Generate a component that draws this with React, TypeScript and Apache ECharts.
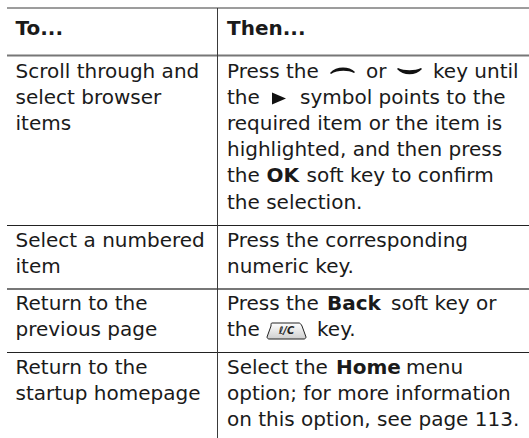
import React, { useEffect, useRef } from "react";
import * as echarts from "echarts";

const FONT = "'DejaVu Sans', Verdana, sans-serif";
const INK = "#1a1a1a";
const W = 529;
const H = 438;
const ASCENT = 18;

// [x, baseline, text, bold]
type Run = [number, number, string, boolean?];
const headerRuns: Run[] = [
  [15.5, 36, "To...", true],
  [227, 36, "Then...", true],
];
const leftRuns: Run[] = [
  [15.5, 79, "Scroll through and"],
  [15.5, 105, "select browser"],
  [15.5, 131, "items"],
  [15.5, 248, "Select a numbered"],
  [15.5, 274, "item"],
  [15.5, 311, "Return to the"],
  [15.5, 337, "previous page"],
  [15.5, 375, "Return to the"],
  [15.5, 401, "startup homepage"],
];
const rightRuns: Run[] = [
  [227, 79, "Press the"],
  [366, 79, "or"],
  [433, 79, "key until"],
  [227, 105, "the"],
  [300, 105, "symbol points to the"],
  [227, 131, "required item or the item is"],
  [227, 157, "highlighted, and then press"],
  [227, 183, "the"],
  [266.5, 183, "OK", true],
  [306.5, 183, "soft key to confirm"],
  [227, 210, "the selection."],
  [227, 248, "Press the corresponding"],
  [227, 274, "numeric key."],
  [227, 311, "Press the"],
  [327, 311, "Back", true],
  [391, 311, "soft key or"],
  [227, 337, "the"],
  [317, 337, "key."],
  [227, 375, "Select the"],
  [336, 375, "Home", true],
  [406, 375, "menu"],
  [227, 401, "option; for more information"],
  [227, 427, "on this option, see page 113."],
];
// [x1, y1, x2, y2, stroke, width]
const rules: [number, number, number, number, string, number][] = [
  [7, 8, 529, 8, "#3a3a3a", 1],
  [7, 55.5, 529, 55.5, "#777777", 2],
  [7, 225.5, 529, 225.5, "#222222", 1],
  [7, 289, 529, 289, "#777777", 2],
  [7, 352.5, 529, 352.5, "#222222", 1],
  [217.5, 8, 217.5, 438, "#3a3a3a", 1],
];

echarts.graphic.registerShape(
  "keyUp",
  echarts.graphic.extendPath("M0 6 C6 -1 19 -1 25 5 L24 6 C18 3 7 3 1 7 Z", {})
);
echarts.graphic.registerShape(
  "keyDown",
  echarts.graphic.extendPath("M0 1 L1 0 C7 3 18 3 24 0 L25 1 C19 8 6 8 0 1 Z", {})
);
echarts.graphic.registerShape(
  "keyCap",
  echarts.graphic.extendPath(
    "M5 0 L32 0 C33 0 34 1 35 3 L39 14 C39 15 38 16 37 16 L2 16 C1 16 0 15 0 14 L4 3 C4 1 4 0 5 0 Z",
    {}
  )
);

export default function App() {
  const ref = useRef<HTMLDivElement>(null);
  useEffect(() => {
    const chart = echarts.init(ref.current!, null, { renderer: "svg" });
    const text = ([x, base, t, bold]: Run) => ({
      type: "text",
      x,
      y: base - ASCENT,
      style: {
        text: t,
        fill: INK,
        font: `${bold ? "bold " : ""}20px ${FONT}`,
        textAlign: "left",
        verticalAlign: "top",
      },
    });
    const elements: any[] = [
      { type: "rect", shape: { x: 0, y: 0, width: W, height: H }, style: { fill: "#ffffff" } },
      ...rules.map(([x1, y1, x2, y2, stroke, lineWidth]) => ({
        type: "line",
        shape: { x1, y1, x2, y2 },
        style: { stroke, lineWidth },
      })),
      ...[...headerRuns, ...leftRuns, ...rightRuns].map(text),
      { type: "keyUp", x: 330, y: 67, style: { fill: "#111" } },
      { type: "keyDown", x: 397, y: 68, style: { fill: "#111" } },
      { type: "polygon", shape: { points: [[272, 92.5], [286, 98.5], [272, 104.5]] }, style: { fill: "#111" } },
      {
        type: "keyCap",
        x: 267,
        y: 323,
        style: {
          fill: new echarts.graphic.LinearGradient(0, 0, 0, 1, [
            { offset: 0, color: "#ffffff" },
            { offset: 1, color: "#cfcfcf" },
          ]),
          stroke: "#222",
          lineWidth: 1,
        },
      },
      {
        type: "text",
        x: 286.5,
        y: 330.5,
        style: {
          text: "ℓ/C",
          fill: "#222",
          font: `italic bold 10px ${FONT}`,
          textAlign: "center",
          verticalAlign: "middle",
        },
      },
    ];
    chart.setOption({ animation: false, graphic: { elements } });
    return () => chart.dispose();
  }, []);
  return <div ref={ref} style={{ position: "absolute", left: 0, top: 0, width: W, height: H }} />;
}
